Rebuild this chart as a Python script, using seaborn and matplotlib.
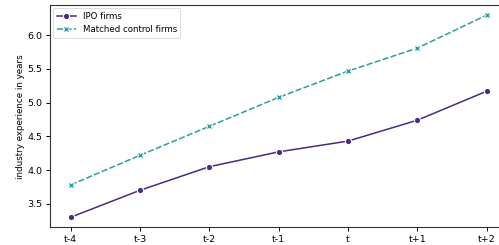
import matplotlib
matplotlib.use("Agg")
import matplotlib.pyplot as plt
import seaborn as sns
import pandas as pd

periods = ["t-4", "t-3", "t-2", "t-1", "t", "t+1", "t+2"]
ipo_firms = [3.30, 3.70, 4.05, 4.27, 4.43, 4.74, 5.17]
control_firms = [3.78, 4.22, 4.65, 5.08, 5.47, 5.81, 6.30]
series_names = ["IPO firms", "Matched control firms"]
colors = {"IPO firms": "#4b2a7f", "Matched control firms": "#2a9fa0"}

df = pd.DataFrame({
    "period": periods * 2,
    "value": ipo_firms + control_firms,
    "group": [series_names[0]] * len(periods) + [series_names[1]] * len(periods),
})

plt.rcParams["font.family"] = ["DejaVu Sans"]
fig = plt.figure(figsize=(4.99, 2.45), dpi=100)
ax = fig.add_axes([50 / 499, (245 - 227.3) / 245, (507.5 - 50) / 499, 222.3 / 245])

sns.lineplot(data=df, x="period", y="value", hue="group", style="group",
             markers=["o", "X"], dashes=True,
             palette=colors, markersize=4.5, linewidth=1.1, ax=ax, sort=False)

ax.set_xlabel("")
ax.set_ylabel("industry experience in years", fontsize=6.3, labelpad=1.5)
ax.tick_params(labelsize=6.8, length=3, width=0.7, pad=2.5)
for s in ax.spines.values():
    s.set_linewidth(0.8)
    s.set_color("#333333")
leg = ax.legend(loc="upper left", fontsize=6.2, frameon=True, handlelength=2.2,
                borderaxespad=0.4)
leg.get_frame().set_linewidth(0.6)

fig.savefig("out.png", dpi=100)
